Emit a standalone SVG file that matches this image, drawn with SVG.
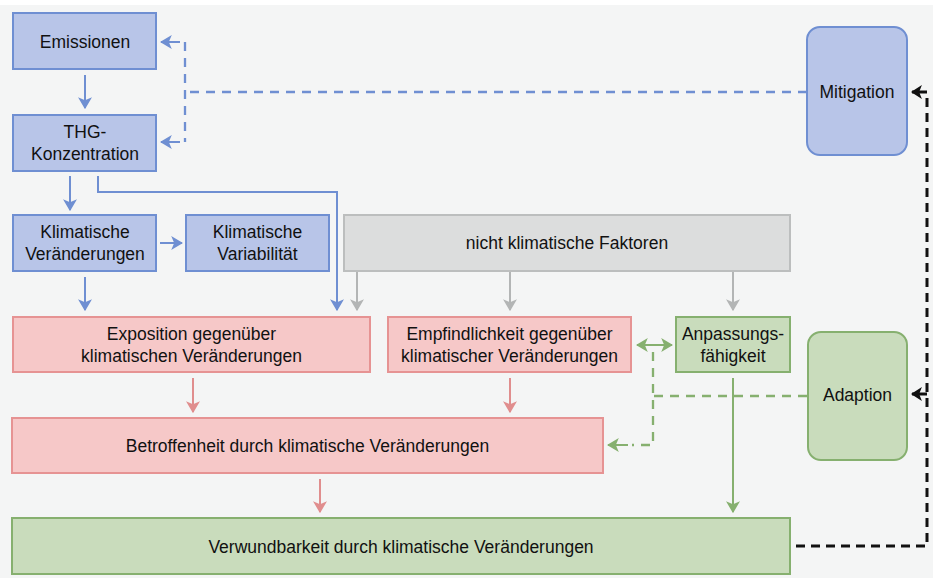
<svg xmlns="http://www.w3.org/2000/svg" width="933" height="578" viewBox="0 0 933 578">
<style>
text{font-family:"Liberation Sans",Arial,sans-serif;font-size:17.5px;fill:#111;text-anchor:middle;dominant-baseline:central}
.b{fill:#b8c5e8;stroke:#6f8fd2;stroke-width:2}
.r{fill:#f6c8c8;stroke:#e69393;stroke-width:2}
.g{fill:#c9dcbc;stroke:#86b06f;stroke-width:2}
.y{fill:#dcdddd;stroke:#bcbebe;stroke-width:2}
.lb{fill:none;stroke:#6f8fd2;stroke-width:2}
.lr{fill:none;stroke:#e08e8e;stroke-width:2}
.lg{fill:none;stroke:#86b06f;stroke-width:2}
.ly{fill:none;stroke:#b3b5b5;stroke-width:2}
.lk{fill:none;stroke:#111;stroke-width:3}
.d{stroke-dasharray:9 7;stroke-width:2.3}
.lk.d{stroke-width:3;stroke-dasharray:9 6}
</style>
<defs>
<marker id="ab" viewBox="0 0 10 10" refX="9" refY="5" markerWidth="12" markerHeight="14" preserveAspectRatio="none" markerUnits="userSpaceOnUse" orient="auto"><path d="M0,0 L10,5 L0,10 L2.5,5 z" fill="#6f8fd2"/></marker>
<marker id="ar" viewBox="0 0 10 10" refX="9" refY="5" markerWidth="12" markerHeight="14" preserveAspectRatio="none" markerUnits="userSpaceOnUse" orient="auto"><path d="M0,0 L10,5 L0,10 L2.5,5 z" fill="#e08e8e"/></marker>
<marker id="ag" viewBox="0 0 10 10" refX="9" refY="5" markerWidth="12" markerHeight="14" preserveAspectRatio="none" markerUnits="userSpaceOnUse" orient="auto"><path d="M0,0 L10,5 L0,10 L2.5,5 z" fill="#86b06f"/></marker>
<marker id="ay" viewBox="0 0 10 10" refX="9" refY="5" markerWidth="12" markerHeight="14" preserveAspectRatio="none" markerUnits="userSpaceOnUse" orient="auto"><path d="M0,0 L10,5 L0,10 L2.5,5 z" fill="#b3b5b5"/></marker>
<marker id="ak" viewBox="0 0 10 10" refX="9" refY="5" markerWidth="11" markerHeight="14" preserveAspectRatio="none" markerUnits="userSpaceOnUse" orient="auto"><path d="M0,0 L10,5 L0,10 L2.5,5 z" fill="#111"/></marker>
</defs>
<rect x="0" y="0" width="933" height="578" fill="#f4f5f5"/>
<rect x="0" y="0" width="933" height="5" fill="#ffffff"/>

<g id="connectors">
<path class="lb" d="M85,75 V108" marker-end="url(#ab)"/>
<path class="lb" d="M70,176 V210" marker-end="url(#ab)"/>
<path class="lb" d="M98,176 V192 H337 V310" marker-end="url(#ab)"/>
<path class="lb" d="M160,243 H182" marker-end="url(#ab)"/>
<path class="lb" d="M85,277 V310" marker-end="url(#ab)"/>
<path class="lb d" d="M807,92 H185"/>
<path class="lb d" d="M185,42 V142"/>
<path class="lb" d="M180,42 H161" marker-end="url(#ab)"/>
<path class="lb" d="M180,142 H161" marker-end="url(#ab)"/>
<path class="ly" d="M357,272 V310" marker-end="url(#ay)"/>
<path class="ly" d="M510,272 V310" marker-end="url(#ay)"/>
<path class="ly" d="M733,272 V310" marker-end="url(#ay)"/>
<path class="lr" d="M193,378 V412" marker-end="url(#ar)"/>
<path class="lr" d="M510,378 V412" marker-end="url(#ar)"/>
<path class="lr" d="M320,479 V512" marker-end="url(#ar)"/>
<path class="lg" d="M733,378 V512" marker-end="url(#ag)"/>
<path class="lg d" d="M807,396 H653"/>
<path class="lg d" d="M653,352 V445 H632"/>
<path class="lg" d="M628,445 H608" marker-end="url(#ag)"/>
<path class="lg" d="M653,345 H637" marker-end="url(#ag)"/>
<path class="lg" d="M653,345 H672" marker-end="url(#ag)"/>
<path class="lk d" d="M796,546 H927 V92"/>
<path class="lk" d="M927,92 H912" marker-end="url(#ak)"/>
<path class="lk" d="M927,394 H912" marker-end="url(#ak)"/>
</g>

<g id="emissionen"><rect class="b" x="13" y="13" width="143" height="56"/><text x="85" y="42">Emissionen</text></g>
<g id="thg"><rect class="b" x="13" y="115" width="143" height="56"/><text x="85" y="132">THG-</text><text x="85" y="154">Konzentration</text></g>
<g id="klimveraenderungen"><rect class="b" x="13" y="215" width="143" height="56"/><text x="85" y="232">Klimatische</text><text x="85" y="254">Veränderungen</text></g>
<g id="klimvariabilitaet"><rect class="b" x="186" y="215" width="143" height="56"/><text x="257.5" y="232">Klimatische</text><text x="257.5" y="254">Variabilität</text></g>
<g id="nichtklimatisch"><rect class="y" x="344" y="215" width="446" height="56"/><text x="567" y="243">nicht klimatische Faktoren</text></g>
<g id="mitigation"><rect class="b" x="807" y="27" width="100" height="128" rx="13"/><text x="857" y="92">Mitigation</text></g>
<g id="exposition"><rect class="r" x="13" y="317" width="357" height="55"/><text x="191.5" y="334">Exposition gegenüber</text><text x="191.5" y="356">klimatischen Veränderungen</text></g>
<g id="empfindlichkeit"><rect class="r" x="388" y="317" width="243" height="55"/><text x="509.5" y="334">Empfindlichkeit gegenüber</text><text x="509.5" y="356">klimatischer Veränderungen</text></g>
<g id="anpassung"><rect class="g" x="676" y="317" width="114" height="55"/><text x="733" y="334">Anpassungs-</text><text x="733" y="356">fähigkeit</text></g>
<g id="adaption"><rect class="g" x="808" y="332" width="99" height="128" rx="13"/><text x="857.5" y="395">Adaption</text></g>
<g id="betroffenheit"><rect class="r" x="12" y="418" width="591" height="55"/><text x="307.5" y="446">Betroffenheit durch klimatische Veränderungen</text></g>
<g id="verwundbarkeit"><rect class="g" x="12" y="518" width="778" height="56"/><text x="401" y="547">Verwundbarkeit durch klimatische Veränderungen</text></g>
</svg>
